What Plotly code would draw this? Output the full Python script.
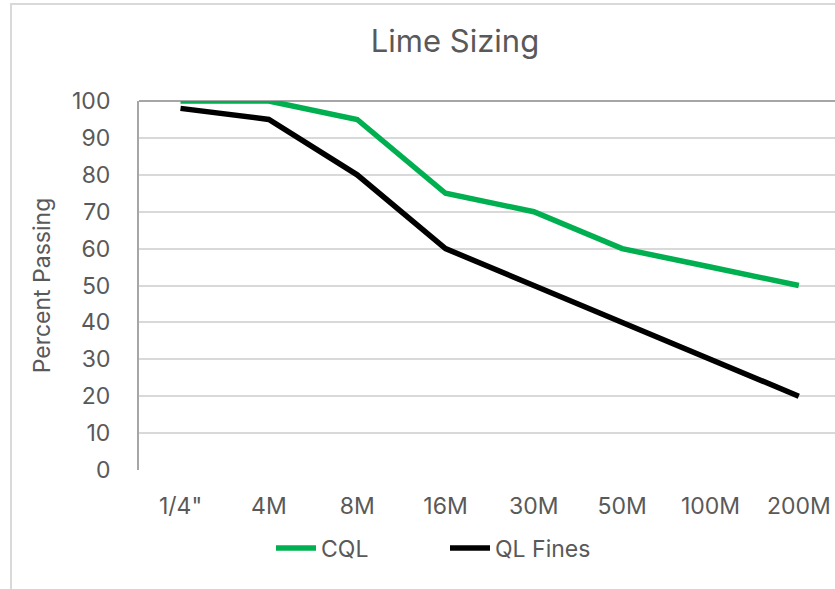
import plotly.graph_objects as go

categories = ['1/4"', "4M", "8M", "16M", "30M", "50M", "100M", "200M"]
cql = [100, 100, 95, 75, 70, 60, 55, 50]
ql_fines = [98, 95, 80, 60, 50, 40, 30, 20]
y_ticks = [0, 10, 20, 30, 40, 50, 60, 70, 80, 90, 100]

FONT = "Inter, Liberation Sans, Arial, sans-serif"
TEXT = "#595959"

fig = go.Figure()
fig.add_trace(go.Scatter(x=categories, y=cql, name="CQL", mode="lines",
                         line=dict(color="#00B050", width=5.5), cliponaxis=False))
fig.add_trace(go.Scatter(x=categories, y=ql_fines, name="QL Fines", mode="lines",
                         line=dict(color="#000000", width=5.5), cliponaxis=False))

W, H = 835, 589
L, R, T, B = 139, 0, 101, 119
pw, ph = W - L - R, H - T - B

fig.update_layout(
    width=W, height=H,
    margin=dict(l=L, r=R, t=T, b=B, pad=0),
    paper_bgcolor="white", plot_bgcolor="white",
    font=dict(family=FONT, color=TEXT, size=23),
    title=dict(text="Lime Sizing", x=455 / W, xanchor="center",
               y=1 - 41 / H, yanchor="middle",
               font=dict(family=FONT, size=31, color=TEXT)),
    showlegend=True,
    legend=dict(orientation="h", x=(271 - L) / pw, xanchor="left",
                y=-(548 - (H - B)) / ph, yanchor="middle",
                font=dict(family=FONT, size=23, color=TEXT),
                entrywidth=119, entrywidthmode="pixels",
                itemwidth=40, bgcolor="rgba(0,0,0,0)"),
    xaxis=dict(type="category", categoryorder="array", categoryarray=categories,
               range=[-0.47, 7.41], showgrid=False, zeroline=False,
               showline=False, ticks="", ticklabelstandoff=20,
               tickfont=dict(family=FONT, size=23, color=TEXT)),
    yaxis=dict(range=[0, 100], tickvals=y_ticks, showgrid=True,
               gridcolor="#d9d9d9", gridwidth=2, zeroline=False,
               showline=True, linecolor="#a6a6a6", linewidth=2,
               ticks="", ticklabelstandoff=22,
               tickfont=dict(family=FONT, size=23, color=TEXT),
               title=dict(text="Percent Passing", standoff=15,
                          font=dict(family=FONT, size=23, color=TEXT))),
)

# chart-area frame (left and top edges visible)
fig.add_shape(type="rect", xref="paper", yref="paper",
              x0=(11 - L) / pw, x1=1.3, y0=-1.0, y1=(H - B - 4) / ph,
              line=dict(color="#d9d9d9", width=2), layer="below")
# top plot border line
fig.add_shape(type="line", xref="paper", yref="paper", x0=0, x1=1, y0=1, y1=1,
              line=dict(color="#a6a6a6", width=2), layer="below")

fig.write_html("out.html", config={"displayModeBar": False},
               post_script="document.body.style.margin='0';")
